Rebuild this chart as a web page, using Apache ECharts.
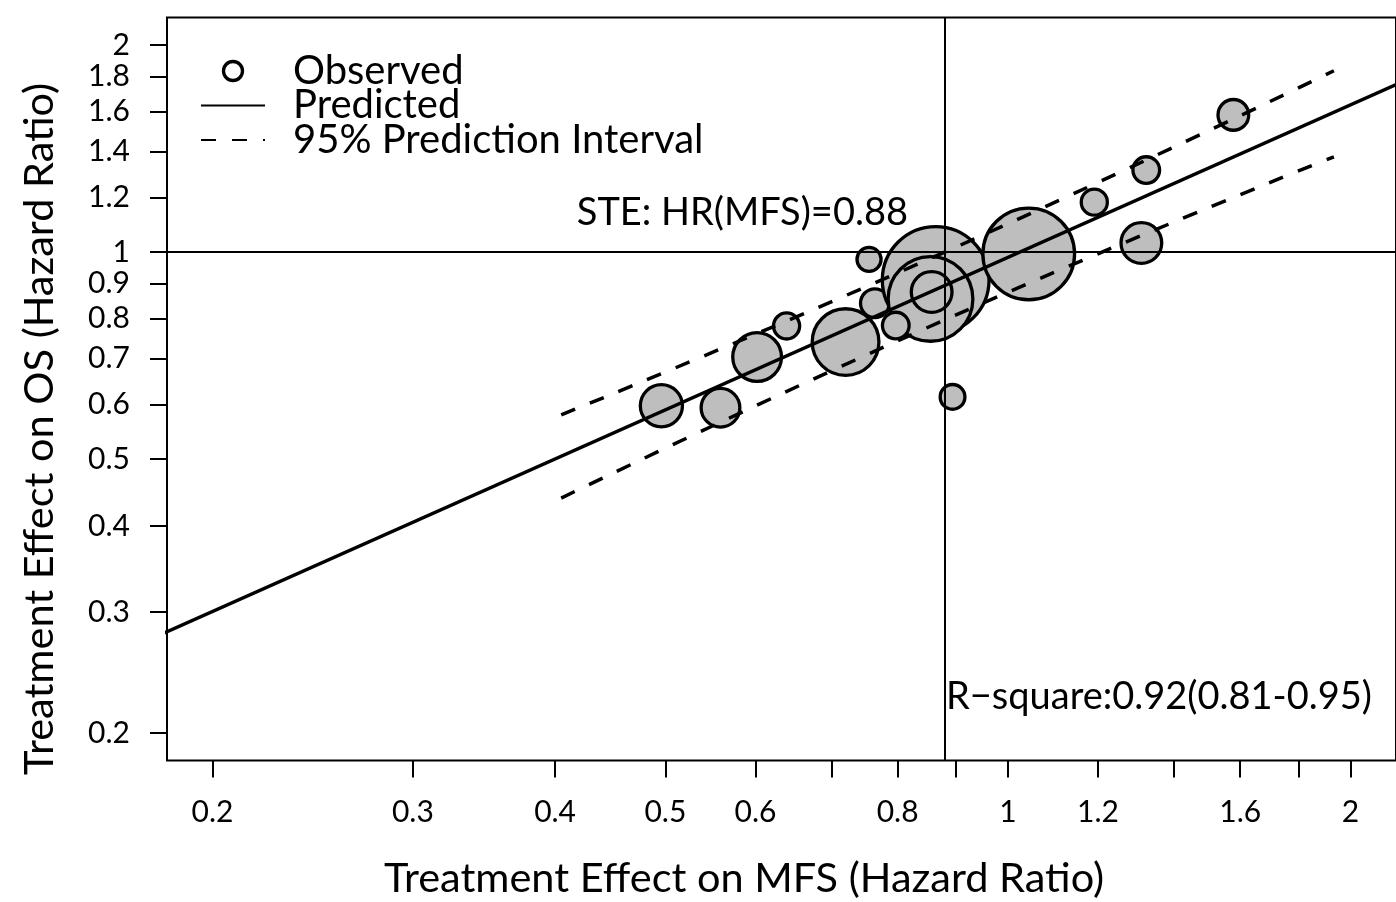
<!DOCTYPE html>
<html>
<head>
<meta charset="utf-8">
<style>
  html, body { margin: 0; padding: 0; background: #fff; }
  #chart { width: 1396px; height: 902px; }
</style>
<script src="https://cdn.jsdelivr.net/npm/echarts@6/dist/echarts.min.js"></script>
</head>
<body>
<div id="chart"></div>
<script>
// Trial-level hazard ratios (MFS vs OS), relative trial size drives bubble area
const studyMFS    = [0.764, 0.864, 0.855, 0.857, 0.720, 0.797, 0.755, 0.602, 0.639, 0.496, 0.559, 0.894, 1.043, 1.191, 1.323, 1.310, 1.578];
const studyOS     = [0.843, 0.911, 0.855, 0.875, 0.740, 0.782, 0.976, 0.704, 0.781, 0.598, 0.594, 0.616, 0.994, 1.182, 1.316, 1.031, 1.583];
const studyWeight = [132,   1822,  1148,  265,   712,   114,   93,    380,   109,   284,   240,   98,    1345,  109,   114,   265,   151];

// Fitted surrogate regression line (log-log)
const predMFS = [0.18, 2.2];
const predOS  = [0.278, 1.756];

// 95% prediction interval bounds
const piMFS     = [0.405, 0.88, 1.934];
const piUpperOS = [0.580, 1.000, 1.835];
const piLowerOS = [0.439, 0.797, 1.376];

// Surrogate threshold effect and reference HR
const steHR = 0.88;
const refHR = 1;

// Axis ticks (hazard ratio scale)
const xTicks      = [0.2, 0.3, 0.4, 0.5, 0.6, 0.7, 0.8, 0.9, 1, 1.2, 1.4, 1.6, 1.8, 2];
const xLabelTicks = [0.2, 0.3, 0.4, 0.5, 0.6, 0.8, 1, 1.2, 1.6, 2];
const yTicks      = [0.2, 0.3, 0.4, 0.5, 0.6, 0.7, 0.8, 0.9, 1, 1.2, 1.4, 1.6, 1.8, 2];

const steText = 'STE: HR(MFS)=0.88';
const r2Text  = 'R\u2212square:0.92(0.81-0.95)';
const xTitle  = 'Treatment Effect on MFS (Hazard Ratio)';
const yTitle  = 'Treatment Effect on OS (Hazard Ratio)';

// Both axes work in log10 space
const L = v => Math.log10(v);
const fmt = v => String(+Math.pow(10, v).toPrecision(2));
const AX_MIN = L(0.2) - 0.04;
const AX_MAX = L(2) + 0.04;

const FONT = 'Lato';
const TICK_FS = 30;
const LEGEND_FS = 40;
const NOTE_FS = 38;
const TITLE_FS = 41.5;
const GREY = '#BEBEBE';

const chart = echarts.init(document.getElementById('chart'), null, { renderer: 'canvas' });

const pts = studyMFS.map((x, i) => [L(x), L(studyOS[i]), studyWeight[i]]);
const line = (xs, ys) => xs.map((x, i) => [L(x), L(ys[i])]);

const axisCommon = {
  type: 'value',
  min: AX_MIN,
  max: AX_MAX,
  axisLine: { show: false, onZero: false },
  splitLine: { show: false },
};

chart.setOption({
  animation: false,
  backgroundColor: '#fff',
  textStyle: { fontFamily: FONT },
  grid: {
    left: 167, top: 17.5, width: 1230, height: 743,
    show: true, borderColor: '#000', borderWidth: 2, backgroundColor: 'transparent'
  },
  xAxis: Object.assign({}, axisCommon, {
    axisTick: { show: true, customValues: xTicks.map(L), length: 17, lineStyle: { color: '#000', width: 2 } },
    axisLabel: { customValues: xLabelTicks.map(L), formatter: fmt, margin: 37,
                 fontSize: TICK_FS, color: '#000', fontFamily: FONT }
  }),
  yAxis: Object.assign({}, axisCommon, {
    axisTick: { show: true, customValues: yTicks.map(L), length: 17, lineStyle: { color: '#000', width: 2 } },
    axisLabel: { customValues: yTicks.map(L), formatter: fmt, margin: 37,
                 fontSize: TICK_FS, color: '#000', fontFamily: FONT }
  }),
  legend: {
    orient: 'vertical',
    left: 200, top: 51,
    padding: 0,
    itemWidth: 64, itemHeight: 19, itemGap: -5.5,
    selectedMode: false,
    textStyle: { fontSize: LEGEND_FS, color: '#000', fontFamily: FONT, padding: [0, 0, 0, 23] },
    data: [
      { name: 'Observed', icon: 'circle', itemStyle: { color: '#fff', borderColor: '#000', borderWidth: 3.3 } },
      { name: 'Predicted', itemStyle: { opacity: 0 } },
      { name: '95% Prediction Interval', itemStyle: { opacity: 0 } }
    ]
  },
  series: [
    {
      name: 'Observed',
      type: 'scatter',
      z: 2,
      data: pts,
      symbol: 'circle',
      symbolSize: d => 2.5 * Math.sqrt(d[2]),
      itemStyle: { color: GREY, borderColor: '#000', borderWidth: 3.3, opacity: 1 },
      emphasis: { disabled: true }
    },
    {
      name: 'Predicted',
      type: 'line',
      z: 3,
      color: '#000',
      data: line(predMFS, predOS),
      symbol: 'none',
      clip: true,
      lineStyle: { color: '#000', width: 3.5 },
      emphasis: { disabled: true },
      markLine: {
        silent: true,
        precision: 10,
        symbol: ['none', 'none'],
        label: { show: false },
        lineStyle: { color: '#000', width: 2, type: 'solid' },
        emphasis: { disabled: true },
        data: [{ yAxis: L(refHR) }, { xAxis: L(steHR) }]
      }
    },
    {
      name: '95% Prediction Interval',
      type: 'line',
      z: 3,
      color: '#000',
      data: line(piMFS, piUpperOS),
      symbol: 'none',
      smooth: true,
      lineStyle: { color: '#000', width: 3.5, type: [15, 16] },
      emphasis: { disabled: true }
    },
    {
      name: '95% Prediction Interval',
      type: 'line',
      z: 3,
      color: '#000',
      data: line(piMFS, piLowerOS),
      symbol: 'none',
      smooth: true,
      lineStyle: { color: '#000', width: 3.5, type: [15, 16] },
      emphasis: { disabled: true }
    }
  ],
  graphic: [
    { type: 'text', x: 908, y: 213, z: 10,
      style: { text: steText, fontSize: NOTE_FS, fontFamily: FONT, fill: '#000', align: 'right', verticalAlign: 'middle' } },
    { type: 'text', x: 946, y: 697, z: 10,
      style: { text: r2Text, fontSize: NOTE_FS, fontFamily: FONT, fill: '#000', align: 'left', verticalAlign: 'middle' } },
    { type: 'text', x: 744, y: 879, z: 10,
      style: { text: xTitle, fontSize: TITLE_FS, fontFamily: FONT, fill: '#000', align: 'center', verticalAlign: 'middle' } },
    { type: 'text', x: 40, y: 429, rotation: Math.PI / 2, z: 10,
      style: { text: yTitle, fontSize: TITLE_FS, fontFamily: FONT, fill: '#000', align: 'center', verticalAlign: 'middle' } }
  ]
});
</script>
</body>
</html>
